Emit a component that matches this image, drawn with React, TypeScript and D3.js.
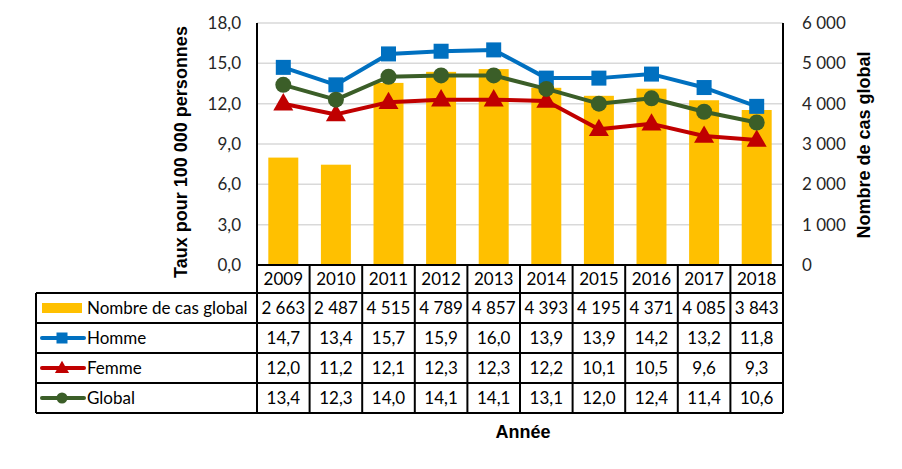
import React from "react";
import * as d3 from "d3";

const years = ["2009", "2010", "2011", "2012", "2013", "2014", "2015", "2016", "2017", "2018"];
const cases = [2663, 2487, 4515, 4789, 4857, 4393, 4195, 4371, 4085, 3843];
const homme = [14.7, 13.4, 15.7, 15.9, 16.0, 13.9, 13.9, 14.2, 13.2, 11.8];
const femme = [12.0, 11.2, 12.1, 12.3, 12.3, 12.2, 10.1, 10.5, 9.6, 9.3];
const globalRate = [13.4, 12.3, 14.0, 14.1, 14.1, 13.1, 12.0, 12.4, 11.4, 10.6];
const leftTicks = [0, 3, 6, 9, 12, 15, 18];
const rightTicks = [0, 1000, 2000, 3000, 4000, 5000, 6000];

const W = 902, H = 469;
const L = 257, R = 783, T = 23, B = 265;
const tableLeft = 36;
const rowH = 30;
const yearRowBottom = 293;

const BAR = "#FFC000", BLUE = "#0070C0", RED = "#C00000", GREEN = "#3B5E28";
const bodyFont = "Lato, 'Open Sans', sans-serif";
const boldFont = "'Liberation Sans', Arial, sans-serif";
const FS = 17;

const fmtComma = (v: number) => v.toFixed(1).replace(".", ",");
const fmtThousand = (v: number) => {
  const s = String(v);
  return s.length > 3 ? s.slice(0, s.length - 3) + "\u00a0" + s.slice(-3) : s;
};

export default function App() {
  const x = d3.scaleBand<string>().domain(years).range([L, R]).paddingInner(0).paddingOuter(0);
  const yL = d3.scaleLinear().domain([0, 18]).range([B, T]);
  const yR = d3.scaleLinear().domain([0, 6000]).range([B, T]);
  const bw = x.bandwidth();
  const barW = bw * 0.57;
  const cx = (y: string) => (x(y) as number) + bw / 2;

  const line = d3.line<number>().x((_, i) => cx(years[i])).y((d) => yL(d));

  const series = [
    { name: "Homme", data: homme, color: BLUE, marker: "square" },
    { name: "Femme", data: femme, color: RED, marker: "triangle" },
    { name: "Global", data: globalRate, color: GREEN, marker: "circle" },
  ];

  const marker = (type: string, px: number, py: number, color: string, size: number, key: string) => {
    if (type === "square")
      return <rect key={key} x={px - size / 2} y={py - size / 2} width={size} height={size} fill={color} />;
    if (type === "circle") return <circle key={key} cx={px} cy={py} r={size / 2} fill={color} />;
    const sym = d3.symbol().type(d3.symbolTriangle).size(size * size * 0.6)();
    return <path key={key} d={sym as string} transform={`translate(${px},${py + 1})`} fill={color} />;
  };

  const rows = [
    { label: "Nombre de cas global", values: cases.map(fmtThousand), kind: "bar" },
    ...series.map((s) => ({ label: s.name, values: s.data.map(fmtComma), kind: s.marker, color: s.color })),
  ];
  const tableBottom = yearRowBottom + rowH * rows.length;

  return (
    <svg width={W} height={H} style={{ position: "absolute", left: 0, top: 0, background: "#fff" }}>
      <rect x={0} y={0} width={W} height={H} fill="#fff" />
      {leftTicks.slice(1).map((t) => (
        <line key={t} x1={L} x2={R} y1={yL(t)} y2={yL(t)} stroke="#D9D9D9" strokeWidth={1.5} />
      ))}
      {cases.map((v, i) => (
        <rect key={years[i]} x={cx(years[i]) - barW / 2} y={yR(v)} width={barW} height={B - yR(v)} fill={BAR} />
      ))}
      {series.map((s) => (
        <g key={s.name}>
          <path d={line(s.data) as string} fill="none" stroke={s.color} strokeWidth={4} strokeLinejoin="round" />
          {s.data.map((d, i) =>
            marker(s.marker, cx(years[i]), yL(d), s.color, s.marker === "square" ? 15 : s.marker === "circle" ? 16 : 17, s.name + i)
          )}
        </g>
      ))}
      <line x1={L} x2={L} y1={T} y2={tableBottom} stroke="#000" strokeWidth={2} />
      <line x1={R} x2={R} y1={T} y2={tableBottom} stroke="#000" strokeWidth={2} />
      {leftTicks.map((t) => (
        <text key={t} x={241} y={yL(t)} dy="0.35em" textAnchor="end" fontFamily={bodyFont} fontSize={FS} fill="#262626">
          {fmtComma(t)}
        </text>
      ))}
      {rightTicks.map((t) => (
        <text key={t} x={802} y={yR(t)} dy="0.35em" textAnchor="start" fontFamily={bodyFont} fontSize={FS} fill="#262626">
          {fmtThousand(t)}
        </text>
      ))}
      <text transform={`translate(181,152) rotate(-90)`} textAnchor="middle" dy="0.35em" fontFamily={boldFont} fontWeight="bold" fontSize={18} fill="#000">
        Taux pour 100 000 personnes
      </text>
      <text transform={`translate(864,145) rotate(-90)`} textAnchor="middle" dy="0.35em" fontFamily={boldFont} fontWeight="bold" fontSize={18} fill="#000">
        Nombre de cas global
      </text>
      <text x={523} y={432} textAnchor="middle" dy="0.35em" fontFamily={boldFont} fontWeight="bold" fontSize={18} fill="#000">
        Année
      </text>
      <line x1={L} x2={R} y1={B} y2={B} stroke="#000" strokeWidth={2} />
      {years.map((y) => (
        <text key={y} x={cx(y)} y={(B + yearRowBottom) / 2} dy="0.35em" textAnchor="middle" fontFamily={bodyFont} fontSize={FS} fill="#000">
          {y}
        </text>
      ))}
      {d3.range(rows.length + 1).map((k) => (
        <line key={k} x1={tableLeft} x2={R} y1={yearRowBottom + k * rowH} y2={yearRowBottom + k * rowH} stroke="#000" strokeWidth={2} />
      ))}
      <line x1={tableLeft} x2={tableLeft} y1={yearRowBottom} y2={tableBottom} stroke="#000" strokeWidth={2} />
      {years.slice(1).map((y) => (
        <line key={y} x1={x(y) as number} x2={x(y) as number} y1={B} y2={tableBottom} stroke="#000" strokeWidth={2} />
      ))}
      {rows.map((r: any, k) => {
        const ym = yearRowBottom + k * rowH + rowH / 2;
        return (
          <g key={r.label}>
            {r.kind === "bar" ? (
              <rect x={42} y={ym - 5} width={40} height={10} fill={BAR} />
            ) : (
              <g>
                <line x1={42} x2={84} y1={ym} y2={ym} stroke={r.color} strokeWidth={4} strokeLinecap="round" />
                {marker(r.kind, 62, ym, r.color, r.kind === "square" ? 11 : r.kind === "circle" ? 11 : 12, "m" + k)}
              </g>
            )}
            <text x={87} y={ym} dy="0.35em" fontFamily={bodyFont} fontSize={FS} fill="#000">
              {r.label}
            </text>
            {r.values.map((v: string, i: number) => (
              <text key={i} x={cx(years[i])} y={ym} dy="0.35em" textAnchor="middle" fontFamily={bodyFont} fontSize={FS} fill="#000">
                {v}
              </text>
            ))}
          </g>
        );
      })}
    </svg>
  );
}
